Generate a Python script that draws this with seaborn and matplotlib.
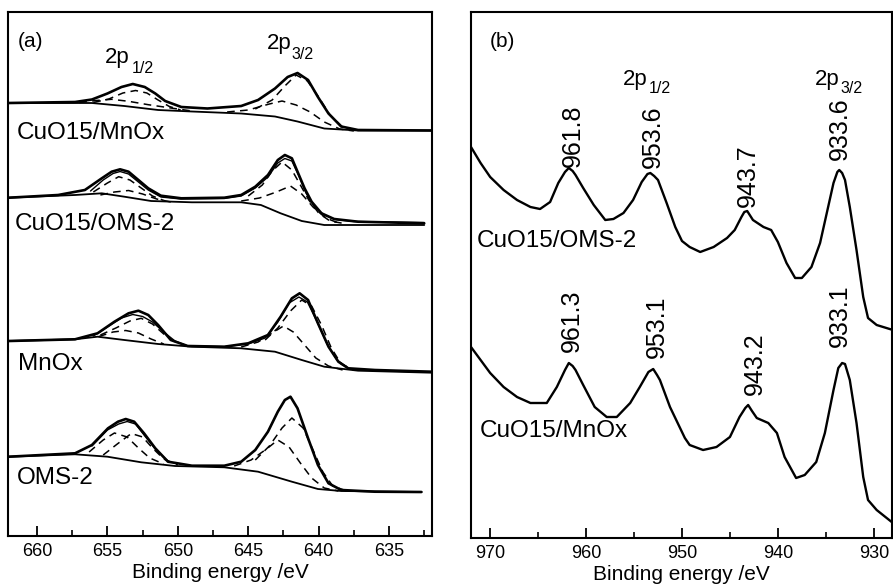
import numpy as np
import matplotlib
matplotlib.use("Agg")
import matplotlib.pyplot as plt
from matplotlib.ticker import MultipleLocator, AutoMinorLocator
import seaborn as sns

sns.set_style("ticks")
plt.rcParams["font.family"] = ["Liberation Sans", "DejaVu Sans"]
plt.rcParams["text.color"] = "black"
plt.rcParams["axes.labelcolor"] = "black"
plt.rcParams["xtick.color"] = "black"
plt.rcParams["axes.edgecolor"] = "black"

# ---------------- panel (a): Cu 2p fitted spectra (a.u.) ----------------
samples_a = ["CuO15/MnOx", "CuO15/OMS-2", "MnOx", "OMS-2"]
offsets_a = [405, 311, 163, 44]

# CuO15/MnOx
s1_env_E = [662.0, 657.3, 656.1, 655.0, 654.0, 653.2, 652.35, 651.6, 650.9, 649.75, 647.9, 645.5,
            644.3, 643.1, 642.2, 641.5, 640.75, 640.05, 639.3, 638.4, 637.2, 632.0]
s1_env_v = [28, 29, 31.5, 37.5, 44, 47, 44, 37.5, 30, 24, 22.5, 25,
            31, 42.5, 54, 58, 51, 34, 17.5, 4.5, 1, 0.5]
s1_bg_E = [662.0, 656.1, 653.8, 651.4, 649.0, 645.5, 643.1, 641.5, 639.6, 637.2, 632.0]
s1_bg_v = [28, 28, 25, 21, 19.5, 17.5, 14.5, 9.5, 2.5, 0.5, 0.5]
s1_d1_E = [656.0, 654.9, 653.9, 653.0, 652.2, 651.4, 650.6, 649.8]
s1_d1_v = [28.5, 32, 38, 40.5, 38, 31, 24.5, 21]
s1_d2_E = [657.0, 655.8, 654.7, 653.5, 652.1, 650.5, 649.0]
s1_d2_v = [28.5, 30.5, 31.7, 29.7, 26.3, 23, 20]
s1_d3_E = [644.5, 643.3, 642.4, 641.6, 640.8, 640.0, 639.2, 638.3, 637.3]
s1_d3_v = [22, 31, 45, 56, 50, 34, 16, 4, 1]
s1_d4_E = [646.5, 645.0, 643.5, 642.6, 641.6, 640.6, 639.6, 638.5, 637.5]
s1_d4_v = [19, 21, 27, 30, 26, 19, 9, 2, 0]

# CuO15/OMS-2
s2_env_E = [662.0, 658.5, 656.6, 655.4, 654.7, 654.1, 653.5, 652.8, 652.1, 651.2, 649.75, 646.7,
            645.5, 644.5, 643.6, 642.9, 642.4, 641.9, 641.5, 641.0, 640.5, 639.8, 638.9, 637.2, 632.5]
s2_env_v = [27.3, 30, 35, 46.7, 53.3, 55.7, 53.3, 45, 36.7, 29.3, 26.7, 27.3,
            30, 38.3, 50, 65, 70, 66.7, 53.3, 36.7, 23.3, 11.7, 6, 3.3, 1.7]
s2_fit_E = [656.2, 655.3, 654.6, 654.1, 653.5, 652.8, 652.1, 651.2, 649.8, 646.7, 645.5, 644.5,
            643.6, 642.9, 642.4, 641.9, 641.4, 640.9, 640.3, 639.6, 638.8, 637.5, 632.5]
s2_fit_v = [34, 45, 51.5, 53.5, 51, 43, 35, 28, 26, 26.5, 29, 37,
            48, 62, 66.5, 64, 49, 32, 18, 10, 5.5, 3.5, 2.5]
s2_bg_E = [662.0, 657.3, 655.4, 653.8, 651.9, 649.0, 645.5, 644.1, 642.7, 641.2, 639.6, 637.2, 632.5]
s2_bg_v = [27.3, 30, 31.7, 28.3, 24, 22.7, 22.7, 20, 11.7, 4, 0, 0, 0]
s2_d1_E = [656.0, 655.0, 654.2, 653.4, 652.6, 651.8, 651.0]
s2_d1_v = [33, 42, 48.3, 45, 37, 29, 24.5]
s2_d2_E = [655.5, 654.5, 653.5, 652.5, 651.5, 650.5]
s2_d2_v = [30, 33, 34.5, 31, 26, 23]
s2_d3_E = [645.0, 644.0, 643.3, 642.6, 641.9, 641.3, 640.7, 640.0, 639.2, 638.0]
s2_d3_v = [29, 40, 54, 63, 55, 40, 25, 12, 4, 1]
s2_d4_E = [645.5, 644.2, 643.0, 642.0, 641.2, 640.4, 639.5, 638.5]
s2_d4_v = [24, 27, 33, 39, 31, 18, 7, 1.5]

# MnOx
s3_env_E = [662.0, 657.3, 655.7, 654.5, 653.5, 652.8, 652.1, 651.4, 650.5, 649.3, 646.7, 645.0,
            643.6, 642.7, 641.9, 641.35, 640.75, 640.05, 639.3, 638.6, 637.9, 636.0, 632.0]
s3_env_v = [32, 33.7, 39.7, 51.3, 59.7, 62.3, 58, 48, 33, 27, 26.3, 29.7,
            38, 56.3, 74.7, 79.7, 73, 49.7, 26.3, 11.3, 4.7, 3, 1.3]
s3_fit_E = [656.0, 655.0, 654.0, 653.2, 652.5, 651.8, 651.0, 650.2, 649.3, 646.7, 645.0, 643.8,
            642.9, 642.1, 641.4, 640.8, 640.1, 639.4, 638.7, 637.9]
s3_fit_v = [37, 46, 55, 58.5, 56.5, 51, 41, 32, 27, 26.3, 29, 35,
            51, 70, 76, 71, 51, 29, 13, 5]
s3_bg_E = [662.0, 657.3, 655.7, 653.8, 651.4, 649.0, 645.5, 643.1, 641.2, 639.6, 637.2, 632.0]
s3_bg_v = [32, 33.7, 36.3, 33, 29, 26.3, 24.7, 21.3, 13, 6.3, 2.3, 0.3]
s3_d1_E = [655.5, 654.4, 653.4, 652.6, 651.8, 651.0, 650.2]
s3_d1_v = [38, 45, 52, 54.7, 49, 39, 31]
s3_d2_E = [655.6, 654.6, 653.7, 652.8, 651.9, 651.0]
s3_d2_v = [36.5, 41, 42.5, 40, 34, 29]
s3_d3_E = [643.8, 642.9, 642.0, 641.2, 640.5, 639.8, 639.1, 638.4, 637.5]
s3_d3_v = [33, 45, 62, 73, 67, 48, 25, 9, 3]
s3_d4_E = [645.5, 644.3, 643.3, 642.5, 641.8, 641.0, 640.2, 639.3, 638.3]
s3_d4_v = [26, 31, 40, 47, 41, 28, 15, 7, 3]

# OMS-2
s4_env_E = [662.0, 657.3, 656.1, 654.96, 654.25, 653.7, 653.1, 652.4, 651.6, 650.7, 649.0, 646.7,
            645.5, 644.5, 643.6, 642.9, 642.4, 642.0, 641.5, 640.75, 640.05, 639.3, 638.4, 636.0, 632.7]
s4_env_v = [35.3, 38.7, 47, 63.7, 70.3, 73, 70.3, 58.7, 43.7, 30.3, 26.3, 26.3,
            30.3, 42, 60.3, 80.3, 92, 95.3, 83.7, 53.7, 27, 8.7, 2, 0.3, 0]
s4_fit_E = [656.1, 655.0, 654.2, 653.6, 653.0, 652.4, 651.6, 650.7]
s4_fit_v = [46, 62, 68, 70.5, 68, 57, 43, 31]
s4_bg_E = [662.0, 657.3, 655.0, 652.6, 650.2, 646.7, 644.3, 641.9, 640.05, 638.4, 632.7]
s4_bg_v = [35.3, 37.7, 35.3, 29.7, 26, 24.7, 20.3, 10.3, 3, 1, 0]
s4_d1_E = [656.3, 655.3, 654.5, 653.6, 652.8, 652.0, 651.0]
s4_d1_v = [40, 52, 59, 55, 44, 34, 28]
s4_d2_E = [655.3, 654.3, 653.3, 652.5, 651.8, 651.0, 650.0]
s4_d2_v = [37, 48, 58.5, 55, 44, 33, 27]
s4_d3_E = [644.5, 643.5, 642.6, 641.9, 641.1, 640.4, 639.7, 639.0, 638.0]
s4_d3_v = [32, 46, 64, 74, 64, 42, 20, 6, 1]
s4_d4_E = [646.0, 644.8, 643.7, 642.9, 642.1, 641.3, 640.5, 639.6, 638.6]
s4_d4_v = [26, 32, 43, 52, 45, 29, 14, 4, 1]

# ---------------- panel (b): Cu 2p with shake-up satellites (a.u.) ----------------
samples_b = ["CuO15/OMS-2", "CuO15/MnOx"]
offsets_b = [200, 0]
b1_E = [972.0, 971.0, 970.0, 968.6, 967.2, 965.8, 964.8, 963.75, 962.9, 962.2, 961.8, 961.4,
        961.1, 960.3, 959.2, 958.0, 957.15, 956.1, 955.1, 954.2, 953.6, 953.3, 952.9, 952.5,
        951.6, 950.7, 950.0, 949.2, 948.1, 946.7, 945.3, 944.5, 943.8, 943.5, 943.2, 942.6,
        941.5, 940.7, 940.0, 939.1, 938.2, 937.5, 936.5, 935.6, 934.9, 934.2, 933.8, 933.6,
        933.3, 933.0, 932.5, 931.8, 931.1, 930.6, 929.7, 928.0]
b1_v = [191, 175, 161, 148, 138, 131, 129, 136, 155, 166, 170, 167,
        163, 150, 133, 118, 119, 125, 138, 156, 164, 165, 162, 158,
        135, 111, 97, 91, 86, 91, 100, 108, 121, 126, 127, 118,
        111, 108, 96, 75, 60, 60, 71, 95, 125, 155, 166, 168,
        165, 158, 131, 88, 41, 20, 13, 8]
b2_E = [972.0, 971.0, 970.0, 968.6, 967.2, 965.8, 964.1, 963.05, 962.2, 961.8, 961.4, 961.1,
        960.3, 959.1, 957.85, 956.8, 955.4, 954.4, 953.5, 953.0, 952.6, 952.3, 951.25, 949.7,
        949.2, 947.8, 946.4, 945.0, 944.0, 943.4, 943.1, 942.7, 942.2, 941.0, 940.1, 939.3,
        938.1, 937.2, 936.0, 935.1, 934.2, 933.7, 933.3, 933.0, 932.5, 931.8, 931.1, 930.6,
        929.7, 928.0]
b2_v = [191, 178, 165, 151, 141, 135, 135, 151, 168, 175, 172, 168,
        153, 131, 121, 121, 135, 151, 166, 169, 163, 158, 131, 100,
        93, 88, 91, 101, 121, 130, 133, 127, 120, 115, 105, 81,
        60, 63, 76, 105, 148, 170, 175, 174, 158, 115, 61, 38,
        28, 15]
peaks_b1 = ["961.8", "953.6", "943.7", "933.6"]
peaks_b2 = ["961.3", "953.1", "943.2", "933.1"]
orbitals = ["2p", "1/2", "3/2"]

# ---------------- drawing ----------------
fig = plt.figure(figsize=(8.93, 5.85), dpi=100)
axA = fig.add_axes([8 / 893, 49 / 585, 424 / 893, 524 / 585])
axB = fig.add_axes([471 / 893, 47 / 585, 421 / 893, 526 / 585])


def draw(ax, E, v, off, lw, ls="-"):
    sns.lineplot(x=list(E), y=np.asarray(v, float) + off, ax=ax, color="black",
                 linewidth=lw, linestyle=ls, sort=False, estimator=None, legend=False)


sets_a = [
    (s1_env_E, s1_env_v, None, None, s1_bg_E, s1_bg_v,
     [(s1_d1_E, s1_d1_v), (s1_d2_E, s1_d2_v), (s1_d3_E, s1_d3_v), (s1_d4_E, s1_d4_v)]),
    (s2_env_E, s2_env_v, s2_fit_E, s2_fit_v, s2_bg_E, s2_bg_v,
     [(s2_d1_E, s2_d1_v), (s2_d2_E, s2_d2_v), (s2_d3_E, s2_d3_v), (s2_d4_E, s2_d4_v)]),
    (s3_env_E, s3_env_v, s3_fit_E, s3_fit_v, s3_bg_E, s3_bg_v,
     [(s3_d1_E, s3_d1_v), (s3_d2_E, s3_d2_v), (s3_d3_E, s3_d3_v), (s3_d4_E, s3_d4_v)]),
    (s4_env_E, s4_env_v, s4_fit_E, s4_fit_v, s4_bg_E, s4_bg_v,
     [(s4_d1_E, s4_d1_v), (s4_d2_E, s4_d2_v), (s4_d3_E, s4_d3_v), (s4_d4_E, s4_d4_v)]),
]
for (eE, eV, fE, fV, bE, bV, comps), off in zip(sets_a, offsets_a):
    draw(axA, bE, bV, off, 1.3)
    for cE, cV in comps:
        draw(axA, cE, cV, off, 1.1, (0, (5, 3.5)))
    if fE is not None:
        draw(axA, fE, fV, off, 1.0)
    draw(axA, eE, eV, off, 1.9)

draw(axB, b1_E, b1_v, offsets_b[0], 1.7)
draw(axB, b2_E, b2_v, offsets_b[1], 1.7)

# axes styling
for ax in (axA, axB):
    ax.set_yticks([])
    ax.set_ylabel("")
    for sp in ax.spines.values():
        sp.set_visible(True)
        sp.set_linewidth(1.5)
        sp.set_color("black")
    ax.tick_params(axis="x", which="major", direction="in", length=7, width=1.3,
                   labelsize=13, pad=5, top=False, colors="black")
    ax.tick_params(axis="x", which="minor", direction="in", length=4.5, width=1.2, top=False)
    ax.xaxis.set_minor_locator(AutoMinorLocator(2))
    ax.set_xlabel("Binding energy /eV", fontsize=15, labelpad=2)

axA.set_xlim(662.06, 631.95)
axA.set_ylim(0, 524)
axA.xaxis.set_major_locator(MultipleLocator(5))
axB.set_xlim(972.0, 928.1)
axB.set_ylim(0, 526)
axB.xaxis.set_major_locator(MultipleLocator(10))


def orbital(ax, x_main, y_main, x_sub, y_sub, sub):
    ax.text(x_main, y_main, orbitals[0], fontsize=16, ha="left", va="baseline")
    ax.text(x_sub, y_sub, sub, fontsize=11.5, ha="left", va="baseline")


# panel (a) texts
axA.text(661.35, 504, "(a)", fontsize=15, ha="left", va="top")
orbital(axA, 655.17, 473, 653.3, 463, orbitals[1])
orbital(axA, 643.67, 487, 641.9, 477, orbitals[2])
label_a_pos = [(661.42, 403), (661.56, 312), (661.35, 172), (661.42, 58)]
for name, (x, y) in zip(samples_a, label_a_pos):
    axA.text(x, y, name, fontsize=17.5, ha="left", va="center")

# panel (b) texts
axB.text(970.0, 506, "(b)", fontsize=15, ha="left", va="top")
orbital(axB, 956.15, 453, 953.5, 445, orbitals[1])
orbital(axB, 936.15, 453, 933.5, 445, orbitals[2])
label_b_pos = [(971.35, 297), (971.04, 107)]
for name, (x, y) in zip(samples_b, label_b_pos):
    axB.text(x, y, name, fontsize=17.5, ha="left", va="center")
pk1_pos = [(961.35, 371), (953.0, 370), (943.1, 331), (933.5, 378)]
pk2_pos = [(961.46, 186), (952.6, 180), (942.4, 143), (933.5, 191)]
for lab, (x, y) in zip(peaks_b1, pk1_pos):
    axB.text(x, y, lab, fontsize=18, rotation=90, ha="center", va="bottom")
for lab, (x, y) in zip(peaks_b2, pk2_pos):
    axB.text(x, y, lab, fontsize=18, rotation=90, ha="center", va="bottom")

fig.savefig("out.png", dpi=100)
